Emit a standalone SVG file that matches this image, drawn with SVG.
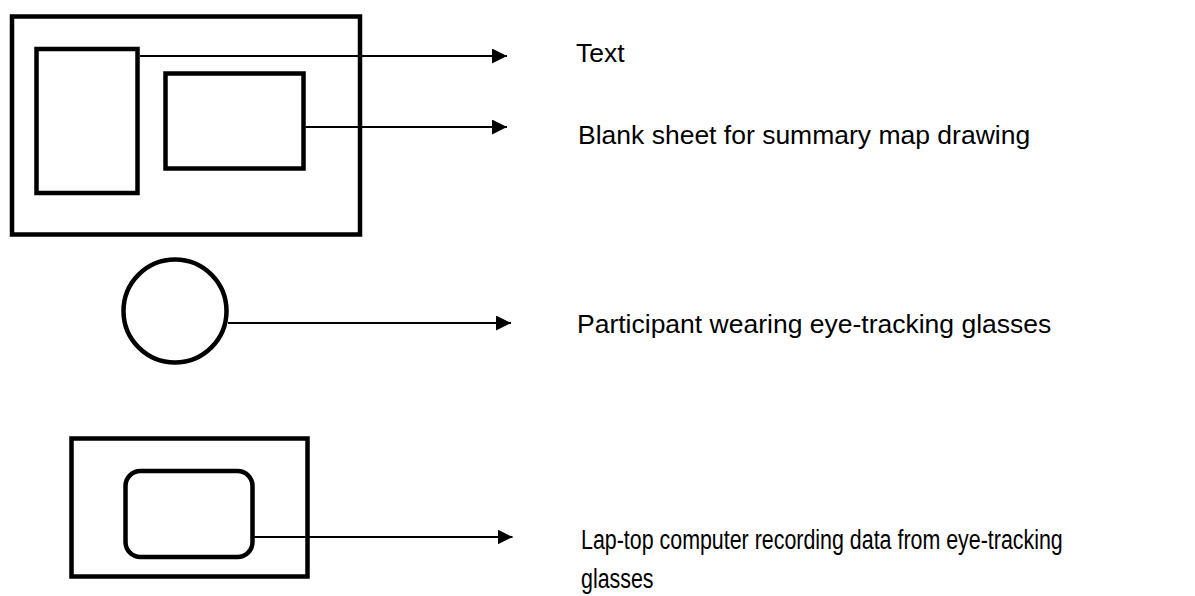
<svg xmlns="http://www.w3.org/2000/svg" width="1195" height="596" viewBox="0 0 1195 596">
  <style>
    .box { fill: none; stroke: #000; stroke-width: 4.5; }
    .link { fill: none; stroke: #000; stroke-width: 2; marker-end: url(#head); }
    .label { font-family: "Liberation Sans", Arial, sans-serif; font-size: 26.5px; fill: #000; }
    .label-tall { font-family: "Liberation Sans", Arial, sans-serif; font-size: 28px; fill: #000; }
  </style>
  <defs>
    <marker id="head" markerUnits="userSpaceOnUse" markerWidth="16" markerHeight="16" refX="15" refY="7.5" orient="auto">
      <path d="M0,0 L15,7.5 L0,15 Z" fill="#000"/>
    </marker>
  </defs>
  <rect width="1195" height="596" fill="#fff"/>

  <!-- desk with reading text and blank sheet -->
  <g id="desk">
    <rect class="box" x="12" y="16.5" width="348" height="218"/>
  </g>
  <g id="text-sheet">
    <rect class="box" x="36.5" y="49" width="101" height="144"/>
  </g>
  <g id="blank-sheet">
    <rect class="box" x="165.5" y="73.5" width="138" height="95"/>
  </g>

  <!-- participant -->
  <g id="participant">
    <circle class="box" cx="175" cy="311" r="51.5" stroke-width="5"/>
  </g>

  <!-- laptop -->
  <g id="laptop">
    <rect class="box" x="71.5" y="438.5" width="236" height="138" stroke-width="5"/>
    <rect class="box" x="125.5" y="471" width="127" height="86" rx="15" ry="15"/>
  </g>

  <!-- connectors -->
  <g id="connectors">
    <line class="link" x1="140" y1="56" x2="507" y2="56"/>
    <line class="link" x1="305.5" y1="127" x2="507" y2="127"/>
    <line class="link" x1="228" y1="323" x2="511" y2="323"/>
    <line class="link" x1="254" y1="537" x2="512.5" y2="537"/>
  </g>

  <!-- labels -->
  <g id="labels">
    <text class="label" x="576" y="62">Text</text>
    <text class="label" x="578" y="143.5">Blank sheet for summary map drawing</text>
    <text class="label" x="577" y="332.5">Participant wearing eye-tracking glasses</text>
    <!-- condensed two-line caption for the laptop -->
    <g transform="translate(581 548.5) scale(0.765 1)">
      <text class="label-tall" x="0" y="0">Lap-top computer recording data from eye-tracking</text>
      <text class="label-tall" x="0" y="39.5">glasses</text>
    </g>
  </g>
</svg>
